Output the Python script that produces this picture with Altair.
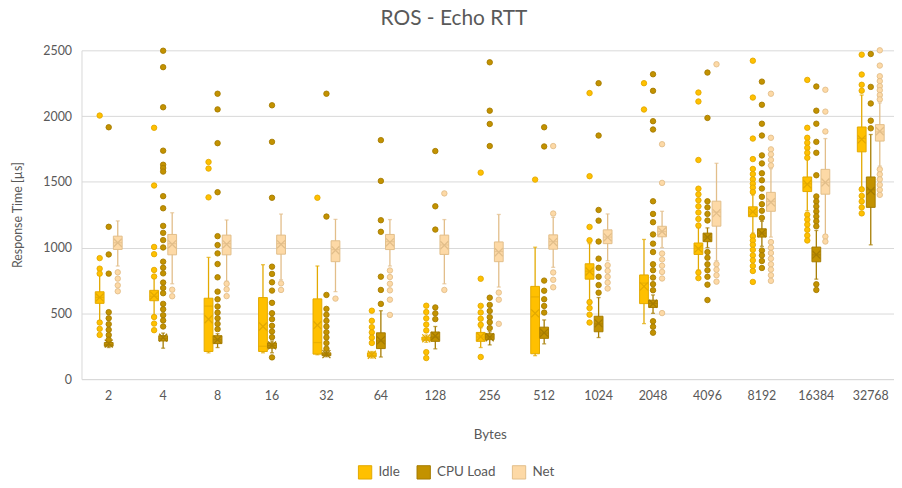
import altair as alt
import pandas as pd

categories = ["2", "4", "8", "16", "32", "64", "128", "256", "512", "1024",
              "2048", "4096", "8192", "16384", "32768"]
series = ["Idle", "CPU Load", "Net"]
fills = ["#FFC000", "#C39200", "#FDD9A6"]
strokes = ["#E3A900", "#A67C00", "#E2BE8A"]

# Idle
idle_q1 = [576, 596, 210, 210, 190, 170, 295, 287, 193, 760, 574, 948, 1235, 1426, 1728]
idle_q3 = [664, 675, 615, 620, 610, 200, 320, 355, 705, 877, 792, 1035, 1310, 1537, 1917]
idle_med = [621, 630, 555, 250, 278, 180, 305, 320, 625, 820, 730, 995, 1270, 1485, 1830]
idle_mean = [621, 635, 455, 400, 410, 185, 310, 322, 500, 818, 705, 992, 1272, 1482, 1823]
idle_lo = [445, 480, 200, 200, 185, 160, 280, 240, 178, 600, 422, 830, 1110, 1280, 1456]
idle_hi = [790, 775, 925, 870, 860, 210, 335, 390, 1003, 1030, 1062, 1150, 1400, 1680, 2160]
idle_out = [
    [2004, 920, 840, 802, 430, 382, 336],
    [1911, 1472, 1005, 950, 830, 780, 472, 422, 372],
    [1651, 1601, 1382],
    [],
    [1379],
    [520, 443, 395, 355, 315, 275],
    [558, 510, 462, 415, 370, 205, 160],
    [1570, 763, 557, 507, 459, 413, 168],
    [1517],
    [2175, 1543, 1157, 1056, 585, 540, 490, 430],
    [2250, 2050],
    [2179, 2111, 1666, 1448, 1405, 1360, 1314, 1267, 1218, 1168, 810, 768],
    [2421, 2141, 1829, 1673, 1598, 1559, 1519, 1486, 1456, 1423, 1087, 1054, 1021,
     983, 941, 903, 860, 822, 739],
    [2275, 1911, 1835, 1797, 1759, 1721, 1683, 1250, 1213, 1175, 1135, 1092, 1054],
    [2467, 2316, 2238, 2193, 1443, 1393, 1351, 1306, 1260],
]

# CPU Load
cpu_q1 = [250, 290, 270, 235, 178, 232, 287, 300, 310, 360, 545, 1045, 1080, 892, 1306]
cpu_q3 = [278, 330, 330, 275, 200, 352, 358, 345, 395, 478, 600, 1110, 1143, 1004, 1537]
cpu_med = [262, 310, 300, 255, 185, 290, 320, 320, 350, 420, 575, 1080, 1110, 945, 1440]
cpu_mean = [270, 315, 300, 256, 190, 295, 328, 318, 352, 424, 573, 1079, 1110, 946, 1431]
cpu_lo = [240, 235, 240, 200, 170, 168, 230, 260, 268, 316, 500, 1000, 1010, 760, 1021]
cpu_hi = [290, 350, 345, 290, 215, 520, 400, 360, 450, 620, 640, 1150, 1200, 1130, 1860]
cpu_out = [
    [1915, 1158, 948, 802, 509, 463, 418, 375, 335, 300],
    [2497, 2372, 2067, 1737, 1630, 1605, 1578, 1391, 1299, 1165, 1112, 1057, 1001, 893,
     847, 804, 734, 693, 653, 572, 531, 486, 446, 400],
    [2170, 2051, 1794, 1421, 1087, 1019, 956, 875, 774, 665, 607, 552, 506, 463, 420, 380],
    [2082, 1804, 1379, 855, 800, 736, 673, 580, 501, 456, 405, 362, 319, 165],
    [2170, 1236, 640, 534, 489, 443, 400, 357, 317, 274, 231],
    [1817, 1507, 1208, 1120, 779, 678, 572],
    [1734, 1314, 1137, 545, 500, 456],
    [2409, 2041, 1940, 1772, 619, 564, 518, 471, 433, 388],
    [1915, 1769, 749, 672, 607, 556, 506],
    [2250, 1852, 1286, 1205, 1046, 916, 846, 778, 715, 657],
    [2318, 2192, 1961, 1898, 1352, 1256, 1193, 1100, 1030, 966, 873, 828, 772, 722,
     676, 440, 398, 353],
    [2331, 1986, 1352, 1306, 1256, 1206, 966, 923, 873, 828, 778, 718, 601],
    [2262, 2086, 1942, 1852, 1701, 1640, 1565, 1512, 1449, 1386, 1330, 1280, 1226, 978,
     941, 898, 845],
    [2225, 2041, 1942, 1804, 1721, 1550, 1389, 1351, 1313, 1275, 1237, 1200, 1162, 721, 678],
    [2472, 2222, 2096, 1965, 1907],
]

# Net
net_q1 = [986, 945, 945, 950, 893, 985, 948, 893, 988, 1030, 1082, 1163, 1276, 1406, 1810]
net_q3 = [1087, 1100, 1095, 1095, 1052, 1100, 1095, 1043, 1097, 1135, 1162, 1353, 1420, 1595, 1935]
net_med = [1037, 1030, 1030, 1030, 985, 1045, 1020, 970, 1045, 1080, 1122, 1270, 1350, 1495, 1880]
net_mean = [1037, 1025, 1025, 1025, 980, 1040, 1018, 965, 1042, 1078, 1122, 1262, 1345, 1495, 1885]
net_lo = [860, 725, 745, 755, 665, 860, 725, 700, 850, 900, 1000, 900, 1080, 1095, 1620]
net_hi = [1203, 1265, 1210, 1255, 1215, 1213, 1213, 1252, 1230, 1256, 1276, 1641, 1600, 1829, 2100]
net_out = [
    [812, 764, 713, 668],
    [680, 630],
    [725, 683, 631],
    [728, 678],
    [612],
    [826, 776, 725, 675, 604, 488],
    [1412, 678],
    [658, 604, 420],
    [1772, 1259, 811, 755, 698],
    [866, 823, 778, 734, 689],
    [1786, 1492, 955, 910, 862, 815, 765, 502],
    [2394, 874, 832, 790, 741],
    [2170, 1835, 1747, 1709, 1667, 1625, 1042, 999, 959, 916, 873, 833, 790, 747],
    [2200, 2034, 1883, 1084, 1046],
    [2500, 2384, 2303, 2266, 2228, 2197, 2160, 2127, 1595, 1557, 1519, 1477, 1439, 1401],
]

stats = {
    "Idle": (idle_q1, idle_q3, idle_med, idle_mean, idle_lo, idle_hi, idle_out),
    "CPU Load": (cpu_q1, cpu_q3, cpu_med, cpu_mean, cpu_lo, cpu_hi, cpu_out),
    "Net": (net_q1, net_q3, net_med, net_mean, net_lo, net_hi, net_out),
}

box_rows, out_rows = [], []
for s in series:
    q1, q3, med, mean, lo, hi, outs = stats[s]
    for i, c in enumerate(categories):
        box_rows.append(dict(cat=c, series=s, q1=q1[i], q3=q3[i], med=med[i],
                             mean=mean[i], lo=lo[i], hi=hi[i]))
        for v in outs[i]:
            out_rows.append(dict(cat=c, series=s, value=v))
box_df = pd.DataFrame(box_rows)
out_df = pd.DataFrame(out_rows)

FONT = "Lato"
GREY = "#595959"

x_enc = alt.X("cat:N", sort=categories,
              scale=alt.Scale(domain=categories, range=[0, 822],
                              paddingInner=0.5, paddingOuter=0.25),
              axis=alt.Axis(title="Bytes", labelAngle=0, ticks=False,
                            domainColor="#D9D9D9", labelColor=GREY,
                            labelFontSize=12.5, labelPadding=11,
                            titleColor=GREY, titleFontSize=13.5,
                            titleFontWeight="normal", titleY=56,
                            titleBaseline="middle"))
xo_enc = alt.XOffset("series:N", sort=series,
                     scale=alt.Scale(domain=series, paddingInner=0.03, paddingOuter=0.02))
y_axis = alt.Axis(title="Response Time [µs]", values=[0, 500, 1000, 1500, 2000, 2500],
                  format="d", ticks=False, domain=True, domainColor="#D9D9D9",
                  gridColor="#D9D9D9", labelColor=GREY, labelFontSize=12.5,
                  labelPadding=10, titleColor=GREY, titleFontSize=12.5,
                  titleFontWeight="normal", titleX=-64, titleY=165.5,
                  titleAngle=-90, titleBaseline="middle")
y_scale = alt.Scale(domain=[0, 2500], nice=False)

def Y(field):
    return alt.Y(field, type="quantitative", scale=y_scale, axis=y_axis)

layers = []
# whiskers and caps
for k, s in enumerate(series):
    b = alt.Chart(box_df).transform_filter(alt.datum.series == s)
    layers.append(b.mark_rule(color=strokes[k], strokeWidth=1.3).encode(
        x=x_enc, xOffset=xo_enc, y=Y("lo"), y2="hi"))
    layers.append(b.mark_tick(color=strokes[k], size=4, thickness=1.3).encode(
        x=x_enc, xOffset=xo_enc, y=Y("lo")))
    layers.append(b.mark_tick(color=strokes[k], size=4, thickness=1.3).encode(
        x=x_enc, xOffset=xo_enc, y=Y("hi")))

# boxes with legend
leg = alt.Legend(title=None, orient="none", direction="horizontal",
                 legendX=278, legendY=417, symbolType="square", symbolSize=180,
                 symbolStrokeWidth=1, labelFontSize=13.5, labelColor=GREY,
                 labelFont=FONT, columnPadding=14, labelOffset=6, padding=0)
layers.append(alt.Chart(box_df).mark_bar(strokeWidth=1).encode(
    x=x_enc, xOffset=xo_enc, y=Y("q1"), y2="q3",
    fill=alt.Fill("series:N", sort=series,
                  scale=alt.Scale(domain=series, range=fills), legend=leg),
    stroke=alt.Stroke("series:N", sort=series,
                      scale=alt.Scale(domain=series, range=strokes), legend=leg),
))

xshape = "M-1,-1L1,1M1,-1L-1,1"
for k, s in enumerate(series):
    b = alt.Chart(box_df).transform_filter(alt.datum.series == s)
    layers.append(b.mark_tick(color=strokes[k], size=8.5, thickness=1.2).encode(
        x=x_enc, xOffset=xo_enc, y=Y("med")))
    layers.append(b.mark_point(shape=xshape, filled=False, color=strokes[k],
                               strokeWidth=1.3, size=64, opacity=1).encode(
        x=x_enc, xOffset=xo_enc, y=Y("mean")))

for k, s in enumerate(series):
    o = alt.Chart(out_df).transform_filter(alt.datum.series == s)
    layers.append(o.mark_point(shape="circle", filled=True, fill=fills[k],
                               stroke=strokes[k], strokeWidth=0.9, size=30,
                               opacity=1).encode(
        x=x_enc, xOffset=xo_enc, y=Y("value")))

chart = alt.layer(*layers).properties(
    width=818, height=331,
    padding={"left": 74, "top": 41, "right": 0, "bottom": 105},
    autosize=alt.AutoSizeParams(type="none"),
    title=alt.TitleParams("ROS - Echo RTT", fontSize=21, color=GREY, font=FONT,
                          fontWeight="normal", anchor="middle", offset=15, dx=-34),
).configure(font=FONT).configure_view(stroke=None).configure_axis(
    labelFont=FONT, titleFont=FONT)

chart.save("out.html", embed_options={"renderer": "svg", "actions": False})
